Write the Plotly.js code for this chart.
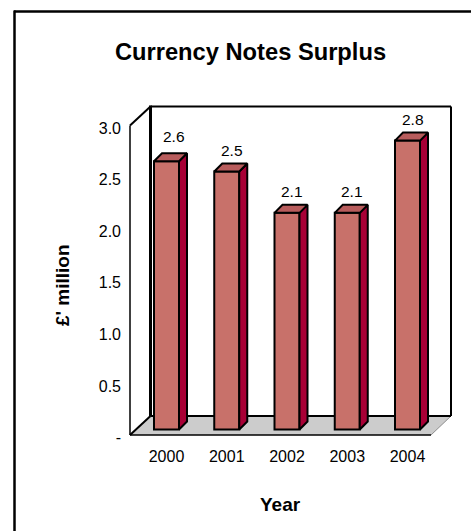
<!DOCTYPE html>
<html>
<head>
<meta charset="utf-8">
<script src="https://cdn.plot.ly/plotly-3.0.1.min.js"></script>
<style>html,body{margin:0;padding:0;background:#fff}#c{width:471px;height:531px}</style>
</head>
<body>
<div id="c"></div>
<script>
var years = [2000, 2001, 2002, 2003, 2004];
var surplus = [2.6, 2.5, 2.1, 2.1, 2.8];
var dataLabels = ["2.6", "2.5", "2.1", "2.1", "2.8"];
var yTickVals = [0, 0.5, 1, 1.5, 2, 2.5, 3];
var yTickText = ["-", "0.5", "1.0", "1.5", "2.0", "2.5", "3.0"];
var titleText = "Currency Notes Surplus";
var xTitle = "Year";
var yTitle = "£' million";

var W = 471, H = 531;
var L = 122, R = 460, T = 100, B = 445;
var pitch = 60.25, unit = 103.17;
var x2000 = 166.5, y0 = 429.5, y0Tick = 437.5;
var barW = 25 / pitch, dx = 8 / pitch, dy = 8 / unit;
var FONT = '"Liberation Sans", Arial, sans-serif';

function px(x) { return (x - L) / (R - L); }
function py(y) { return (B - y) / (B - T); }
function poly(pts, fill, lw, lc) {
  var d = pts.map(function (p, i) { return (i ? 'L' : 'M') + px(p[0]) + ',' + py(p[1]); }).join(' ') + ' Z';
  return { type: 'path', xref: 'paper', yref: 'paper', path: d, fillcolor: fill, layer: 'below',
    line: { color: lc || '#000', width: lw } };
}
function seg(x1, y1, x2, y2, lw, lc) {
  return { type: 'line', xref: 'paper', yref: 'paper', x0: px(x1), y0: py(y1), x1: px(x2), y1: py(y2),
    layer: 'below', line: { color: lc || '#000', width: lw } };
}

var sideX = [], sideY = [], topX = [], topY = [];
years.forEach(function (yr, i) {
  var v = surplus[i], r = yr + barW / 2, l = yr - barW / 2;
  sideX.push(r, r + dx, r + dx, r, r, null);
  sideY.push(0, dy, v + dy, v, 0, null);
  topX.push(l, l + dx, r + dx, r, l, null);
  topY.push(v, v + dy, v + dy, v, v, null);
});

var traces = [
  { type: 'bar', x: years, y: surplus, width: barW, hoverinfo: 'skip',
    marker: { color: '#C8716A', line: { color: '#000', width: 2 } } },
  { type: 'scatter', mode: 'lines', x: sideX, y: sideY, fill: 'toself', fillcolor: '#A80036',
    line: { color: '#000', width: 2 }, hoverinfo: 'skip' },
  { type: 'scatter', mode: 'lines', x: topX, y: topY, fill: 'toself', fillcolor: '#B85C5C',
    line: { color: '#000', width: 2 }, hoverinfo: 'skip' },
  { type: 'scatter', mode: 'markers', x: [years[0]], y: [0], yaxis: 'y2', marker: { opacity: 0 }, hoverinfo: 'skip' }
];

var shapes = [
  seg(14, 11.5, 471, 11.5, 2.5),
  seg(14.5, 10.5, 14.5, 531, 2.5),
  poly([[150.5, 416], [451, 416], [431, 435], [130, 435]], '#CCCCCC', 0),
  seg(130, 435, 431, 435, 1.5),
  seg(431, 435, 451, 416, 0.8, '#777'),
  seg(150.5, 416, 451, 416, 2),
  seg(150.5, 106.5, 451, 106.5, 2),
  seg(451, 106.5, 451, 416, 2),
  seg(150.5, 105.5, 150.5, 416, 3),
  seg(130, 125.5, 150.5, 106.5, 2),
  seg(130, 125.5, 130, 435, 1.5),
  seg(130, 435, 150.5, 416, 2)
];

var annotations = years.map(function (yr, i) {
  return { x: yr, y: surplus[i], xref: 'x', yref: 'y', text: dataLabels[i], showarrow: false,
    xanchor: 'center', yanchor: 'middle',
    xshift: i === 0 ? 7.5 : 5, yshift: i === 0 ? 24.5 : 21,
    font: { family: FONT, size: 15.5, color: '#000' } };
});

Plotly.newPlot('c', traces, {
  width: W, height: H, showlegend: false, paper_bgcolor: '#fff', plot_bgcolor: 'rgba(0,0,0,0)',
  margin: { l: L, r: W - R, t: T, b: H - B, pad: 0 },
  title: { text: '<b>' + titleText + '</b>', x: 250.5 / W, xanchor: 'center', y: 1 - 52 / H, yanchor: 'middle',
    font: { family: FONT, size: 23.7, color: '#000' } },
  xaxis: { range: [2000 + (L - x2000) / pitch, 2000 + (R - x2000) / pitch], tickmode: 'array', tickvals: years,
    ticktext: years.map(String), showgrid: false, zeroline: false, showline: false, ticks: '',
    tickfont: { family: FONT, size: 16, color: '#000' } },
  yaxis: { range: [(y0 - B) / unit, (y0 - T) / unit], showticklabels: false, showgrid: false, zeroline: false,
    showline: false, ticks: '' },
  yaxis2: { overlaying: 'y', side: 'left', range: [(y0Tick - B) / unit, (y0Tick - T) / unit], tickmode: 'array',
    tickvals: yTickVals, ticktext: yTickText, showgrid: false, zeroline: false, showline: false, ticks: '',
    tickfont: { family: FONT, size: 16, color: '#000' } },
  shapes: shapes,
  annotations: annotations.concat([
    { xref: 'paper', yref: 'paper', x: px(62), y: py(285), xanchor: 'center', yanchor: 'middle',
      text: '<b>' + yTitle + '</b>', textangle: -90,
      showarrow: false, font: { family: FONT, size: 19, color: '#000' } },
    { xref: 'paper', yref: 'paper', x: px(280), y: py(505), xanchor: 'center', yanchor: 'middle',
      text: '<b>' + xTitle + '</b>',
      showarrow: false, font: { family: FONT, size: 19, color: '#000' } }
  ])
}, { displayModeBar: false, staticPlot: true });
</script>
</body>
</html>
